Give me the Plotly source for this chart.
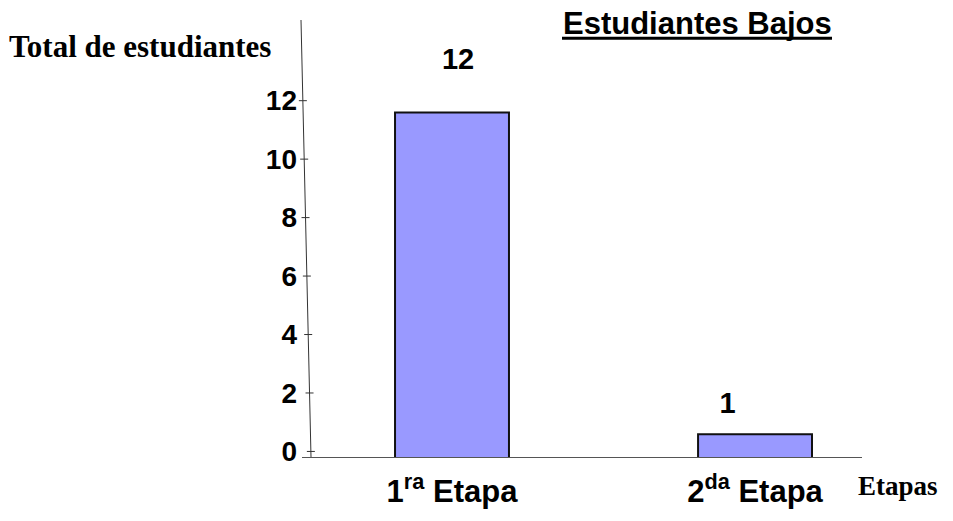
import plotly.graph_objects as go

# ---- data ----
categories = ["1<sup>ra</sup> Etapa", "2<sup>da</sup> Etapa"]
values = [12, 1]
value_labels = ["12", "1"]
y_ticks = [0, 2, 4, 6, 8, 10, 12]
y_tick_labels = ["0", "2", "4", "6", "8", "10", "12"]
title_text = "Estudiantes Bajos"
y_title = "Total de estudiantes"
x_title = "Etapas"

# ---- layout geometry (page pixels) ----
W, H = 953, 521
L, R, T, B = 302, 862, 20, 464
Y_RANGE = [-0.19, 14.76]
Y2_RANGE = [0.225, 15.16]   # perspective offset of the bar faces
Y3_RANGE = [-0.65, 13.32]   # perspective offset of the value labels
X_RANGE = [-0.495, 1.353]
X2_RANGE = [-0.579, 1.499]  # perspective offset of the value labels

def px2x(px):
    return (px - L) / (R - L)

def py2y(py):
    return (B - py) / (B - T)

SANS = "Liberation Sans, Arial, sans-serif"
SERIF = "Liberation Serif, Times New Roman, serif"

fig = go.Figure()

fig.add_trace(go.Bar(
    x=categories, y=values, yaxis="y2", width=0.376,
    marker=dict(color="#9999FF", line=dict(color="#111111", width=2)),
    showlegend=False, hoverinfo="skip",
))

fig.add_trace(go.Scatter(
    x=categories, y=values, xaxis="x2", yaxis="y3", mode="text", text=value_labels,
    textposition="middle center",
    textfont=dict(family=SANS, size=29, color="black", weight="bold"),
    showlegend=False, hoverinfo="skip", cliponaxis=False,
))

shapes = []
# slanted value axis
ax_top, ax_bot = px2x(301), px2x(311)
shapes.append(dict(type="line", xref="paper", yref="paper",
                   x0=ax_bot, y0=0, x1=ax_top, y1=1,
                   line=dict(color="#333333", width=1)))
# tick marks crossing the slanted axis
for v in y_ticks:
    frac = (v - Y_RANGE[0]) / (Y_RANGE[1] - Y_RANGE[0])
    xc = ax_bot + (ax_top - ax_bot) * frac
    shapes.append(dict(type="line", xref="paper", yref="y",
                       x0=xc - 4 / (R - L), x1=xc + 4 / (R - L), y0=v, y1=v,
                       line=dict(color="#333333", width=1)))
# title underline
shapes.append(dict(type="line", xref="paper", yref="paper",
                   x0=px2x(562), x1=px2x(832), y0=py2y(38.5), y1=py2y(38.5),
                   line=dict(color="black", width=3)))

annotations = [
    dict(text=title_text, xref="paper", yref="paper", x=px2x(697), y=py2y(23.5),
         xanchor="center", yanchor="middle", showarrow=False,
         font=dict(family=SANS, size=31, color="black", weight="bold")),
    dict(text=y_title, xref="paper", yref="paper", x=px2x(7), y=py2y(47),
         xanchor="left", yanchor="middle", showarrow=False,
         font=dict(family=SERIF, size=31, color="black", weight="bold")),
    dict(text=x_title, xref="paper", yref="paper", x=px2x(856), y=py2y(493),
         xanchor="left", yanchor="middle", showarrow=False,
         font=dict(family=SERIF, size=27, color="black", weight="bold")),
]

fig.update_layout(
    width=W, height=H,
    margin=dict(l=L, r=W - R, t=T, b=H - B, pad=0),
    plot_bgcolor="white", paper_bgcolor="white",
    shapes=shapes, annotations=annotations,
    xaxis=dict(type="category", range=X_RANGE, showline=True, linecolor="#555555",
               linewidth=1, ticks="", showgrid=False, zeroline=False,
               tickfont=dict(family=SANS, size=31, color="black", weight="bold"),
               ticklabelstandoff=7),
    xaxis2=dict(type="category", range=X2_RANGE, overlaying="x", visible=False),
    yaxis=dict(range=Y_RANGE, tickvals=y_ticks, ticktext=y_tick_labels,
               showline=False, ticks="", showgrid=False, zeroline=False,
               tickfont=dict(family=SANS, size=28, color="black", weight="bold"),
               ticklabelstandoff=4),
    yaxis2=dict(range=Y2_RANGE, overlaying="y", visible=False),
    yaxis3=dict(range=Y3_RANGE, overlaying="y", visible=False),
)

fig.write_html("out.html", config={"displayModeBar": False},
               post_script="document.body.style.margin='0';document.body.style.overflow='hidden';")
